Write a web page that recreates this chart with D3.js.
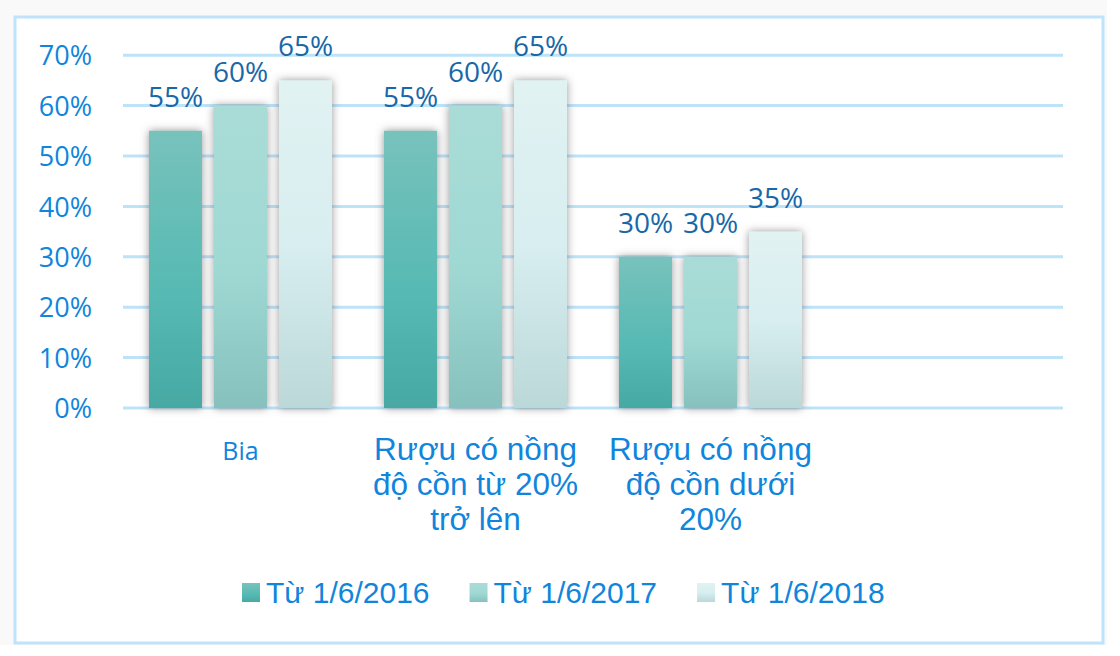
<!DOCTYPE html>
<html>
<head>
<meta charset="utf-8">
<script src="https://cdn.jsdelivr.net/npm/d3@7"></script>
<style>
  html, body { margin: 0; padding: 0; background: #ffffff; }
  svg { display: block; }
</style>
</head>
<body>
<svg id="chart" width="1120" height="656"></svg>
<script>
// ---- data ----
const categories = ["Bia", "Rượu có nồng độ cồn từ 20% trở lên", "Rượu có nồng độ cồn dưới 20%", ""];
const categoryLines = [
  ["Bia"],
  ["Rượu có nồng", "độ cồn từ 20%", "trở lên"],
  ["Rượu có nồng", "độ cồn dưới", "20%"],
  []
];
const seriesNames = ["Từ 1/6/2016", "Từ 1/6/2017", "Từ 1/6/2018"];
const values2016 = [0.55, 0.55, 0.30];
const values2017 = [0.60, 0.60, 0.30];
const values2018 = [0.65, 0.65, 0.35];
const yTicks = [0, 0.1, 0.2, 0.3, 0.4, 0.5, 0.6, 0.7];

const seriesValues = [values2016, values2017, values2018];
const gradStops = [
  [["0%", "#78c2bc"], ["60%", "#56b9b3"], ["100%", "#47a9a3"]],
  [["0%", "#aadcd7"], ["55%", "#9fd8d3"], ["100%", "#86c1bd"]],
  [["0%", "#e1f2f2"], ["50%", "#d8eef0"], ["100%", "#bbd8d8"]]
];

const svg = d3.select("#chart");
const defs = svg.append("defs");
gradStops.forEach((stops, i) => {
  const g = defs.append("linearGradient").attr("id", "grad" + i)
    .attr("x1", 0).attr("y1", 0).attr("x2", 0).attr("y2", 1);
  stops.forEach(s => g.append("stop").attr("offset", s[0]).attr("stop-color", s[1]));
});
const f = defs.append("filter").attr("id", "shadow")
  .attr("x", "-30%").attr("y", "-10%").attr("width", "160%").attr("height", "120%");
f.append("feDropShadow").attr("dx", 0).attr("dy", 0).attr("stdDeviation", 4)
  .attr("flood-color", "#666").attr("flood-opacity", 0.7);

// background + frame
svg.append("rect").attr("x", 0).attr("y", 0).attr("width", 1107).attr("height", 645).attr("fill", "#f9f9f9");
svg.append("rect").attr("x", 15).attr("y", 17).attr("width", 1088).attr("height", 626)
  .attr("fill", "#ffffff").attr("stroke", "#bfe3fa").attr("stroke-width", 3);

// scales
const y = d3.scaleLinear().domain([0, 0.7]).range([408, 55.2]);
const x0 = d3.scaleBand().domain(categories).range([123, 1063]).padding(0);
const x1 = d3.scaleBand().domain(seriesNames).range([0, x0.bandwidth()])
  .paddingInner(0.185).paddingOuter(0.4);

// y axis labels
const yAxis = d3.axisLeft(y).tickValues(yTicks).tickSize(0).tickPadding(0)
  .tickFormat(d3.format(".0%"));
const gAxis = svg.append("g").attr("transform", "translate(92,0)").call(yAxis);
gAxis.select(".domain").remove();
gAxis.selectAll("text")
  .attr("font-family", "'Open Sans', sans-serif").attr("font-size", 27)
  .attr("fill", "#0f85dc").attr("dy", "0.36em");

// gridlines
svg.append("g").selectAll("line").data(yTicks).join("line")
  .attr("x1", 123).attr("x2", 1063)
  .attr("y1", d => y(d)).attr("y2", d => y(d))
  .attr("stroke", "#bde3f9").attr("stroke-width", 3);

// bars
const barData = [];
categories.forEach((c, ci) => {
  seriesNames.forEach((s, si) => {
    const v = seriesValues[si][ci];
    if (v !== undefined) barData.push({ c, s, si, v });
  });
});

svg.append("g").selectAll("rect").data(barData).join("rect")
  .attr("x", d => x0(d.c) + x1(d.s))
  .attr("y", d => y(d.v))
  .attr("width", x1.bandwidth())
  .attr("height", d => y(0) - y(d.v))
  .attr("fill", d => "url(#grad" + d.si + ")")
  .attr("filter", "url(#shadow)");

// data labels
svg.append("g").selectAll("text").data(barData).join("text")
  .attr("x", d => x0(d.c) + x1(d.s) + x1.bandwidth() / 2)
  .attr("y", d => y(d.v) - 24)
  .attr("text-anchor", "middle")
  .attr("font-family", "'Open Sans', sans-serif").attr("font-size", 28)
  .attr("fill", "#1868a8")
  .text(d => d3.format(".0%")(d.v));

// category labels
categories.forEach((c, ci) => {
  const lines = categoryLines[ci];
  const cx = x0(c) + x0.bandwidth() / 2;
  if (lines.length === 1) {
    svg.append("text").attr("x", cx).attr("y", 460)
      .attr("text-anchor", "middle")
      .attr("font-family", "'Open Sans', sans-serif").attr("font-size", 25)
      .attr("fill", "#0f85dc").text(lines[0]);
  } else if (lines.length > 1) {
    const t = svg.append("text").attr("text-anchor", "middle")
      .attr("font-family", "'Liberation Sans', Arial, sans-serif").attr("font-size", 31.5)
      .attr("fill", "#0f85dc");
    lines.forEach((l, li) => {
      t.append("tspan").attr("x", cx).attr("y", 460 + li * 35).text(l);
    });
  }
});

// legend
const legend = svg.append("g");
let lx = 242;
seriesNames.forEach((s, si) => {
  legend.append("rect").attr("x", lx).attr("y", 583).attr("width", 18).attr("height", 19)
    .attr("fill", "url(#grad" + si + ")");
  const t = legend.append("text").attr("x", lx + 24).attr("y", 603)
    .attr("font-family", "'Liberation Sans', Arial, sans-serif").attr("font-size", 30)
    .attr("fill", "#0f85dc").text(s);
  lx = lx + 24 + t.node().getComputedTextLength() + 40;
});
</script>
</body>
</html>
